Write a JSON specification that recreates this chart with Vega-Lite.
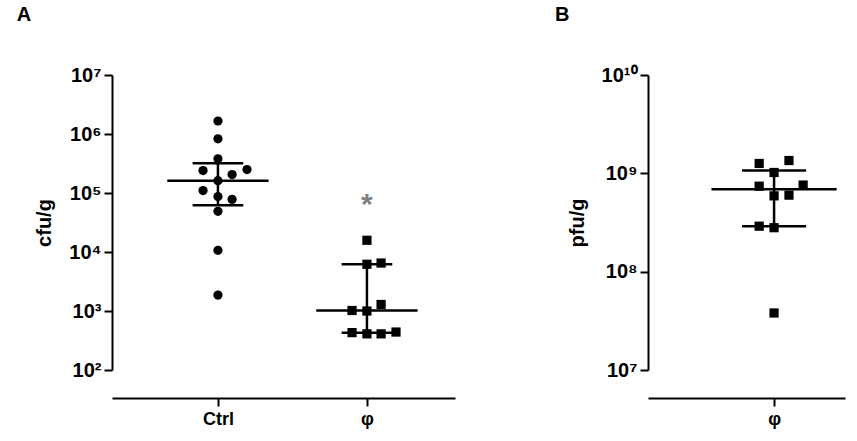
{
  "$schema": "https://vega.github.io/schema/vega-lite/v6.json",
  "background": "white",
  "padding": {"left": 16, "top": 5, "right": 5, "bottom": 5},
  "config": {
    "view": {"stroke": null},
    "font": "Liberation Sans",
    "axis": {"grid": false, "domainColor": "black", "domainWidth": 2, "tickColor": "black", "tickWidth": 2, "tickSize": 8, "labelColor": "black", "titleColor": "black", "labelFont": "Liberation Sans", "titleFont": "Liberation Sans"},
    "title": {"font": "Liberation Sans", "fontSize": 20, "fontWeight": "bold", "anchor": "start", "frame": "bounds"}
  },
  "datasets": {
    "a_pts": [
      {"g": "Ctrl", "x": 1.0, "v": 1.66e6}, {"g": "Ctrl", "x": 1.0, "v": 8.3e5}, {"g": "Ctrl", "x": 1.0, "v": 3.8e5},
      {"g": "Ctrl", "x": 0.9, "v": 2.4e5}, {"g": "Ctrl", "x": 1.195, "v": 2.5e5}, {"g": "Ctrl", "x": 1.095, "v": 2.05e5},
      {"g": "Ctrl", "x": 1.0, "v": 1.62e5}, {"g": "Ctrl", "x": 0.9, "v": 1.1e5}, {"g": "Ctrl", "x": 1.0, "v": 8.7e4},
      {"g": "Ctrl", "x": 1.095, "v": 7.8e4}, {"g": "Ctrl", "x": 1.0, "v": 4.9e4}, {"g": "Ctrl", "x": 1.0, "v": 1.07e4},
      {"g": "Ctrl", "x": 1.0, "v": 1.86e3},
      {"g": "phi", "x": 2.0, "v": 1.58e4}, {"g": "phi", "x": 2.0, "v": 6.2e3}, {"g": "phi", "x": 2.095, "v": 6.5e3},
      {"g": "phi", "x": 2.095, "v": 1.29e3}, {"g": "phi", "x": 1.9, "v": 1.02e3}, {"g": "phi", "x": 2.0, "v": 1.0e3},
      {"g": "phi", "x": 1.9, "v": 4.3e2}, {"g": "phi", "x": 2.0, "v": 4.1e2}, {"g": "phi", "x": 2.095, "v": 4.1e2},
      {"g": "phi", "x": 2.195, "v": 4.4e2}
    ],
    "a_sum": [
      {"c": 1, "med": 1.62e5, "lo": 6.2e4, "hi": 3.2e5},
      {"c": 2, "med": 1.02e3, "lo": 4.3e2, "hi": 6.2e3}
    ],
    "b_pts": [
      {"x": 0.9, "v": 1.26e9}, {"x": 1.1, "v": 1.35e9}, {"x": 1.0, "v": 1.02e9},
      {"x": 0.9, "v": 7.4e8}, {"x": 1.195, "v": 7.6e8}, {"x": 1.0, "v": 5.9e8},
      {"x": 1.1, "v": 6.0e8}, {"x": 0.9, "v": 2.9e8}, {"x": 1.0, "v": 2.8e8},
      {"x": 1.0, "v": 3.8e7}
    ],
    "b_sum": [
      {"c": 1, "med": 6.9e8, "lo": 2.9e8, "hi": 1.07e9}
    ]
  },
  "hconcat": [
    {
      "title": {"text": "A", "dx": -18, "offset": 40},
      "width": 343,
      "height": 295,
      "layer": [
        {
          "data": {"name": "a_sum"},
          "transform": [{"calculate": "datum.c - 0.34", "as": "lo_x"}, {"calculate": "datum.c + 0.34", "as": "hi_x"}],
          "mark": {"type": "rule", "strokeWidth": 2.5, "color": "black"},
          "encoding": {
            "x": {"field": "lo_x", "type": "quantitative"},
            "x2": {"field": "hi_x"},
            "y": {"field": "med", "type": "quantitative"}
          }
        },
        {
          "data": {"name": "a_sum"},
          "transform": [{"calculate": "datum.c - 0.17", "as": "lo_x"}, {"calculate": "datum.c + 0.17", "as": "hi_x"}, {"fold": ["lo", "hi"], "as": ["k", "yy"]}],
          "mark": {"type": "rule", "strokeWidth": 2.5, "color": "black"},
          "encoding": {
            "x": {"field": "lo_x", "type": "quantitative"},
            "x2": {"field": "hi_x"},
            "y": {"field": "yy", "type": "quantitative"}
          }
        },
        {
          "data": {"name": "a_sum"},
          "mark": {"type": "rule", "strokeWidth": 2.5, "color": "black"},
          "encoding": {
            "x": {"field": "c", "type": "quantitative"},
            "y": {"field": "lo", "type": "quantitative"},
            "y2": {"field": "hi"}
          }
        },
        {
          "data": {"name": "a_pts"},
          "mark": {"type": "point", "filled": true, "opacity": 1, "color": "black"},
          "encoding": {
            "x": {"field": "x", "type": "quantitative"},
            "y": {"field": "v", "type": "quantitative"},
            "shape": {"field": "g", "type": "nominal", "scale": {"domain": ["Ctrl", "phi"], "range": ["circle", "square"]}, "legend": null},
            "size": {"value": 85}
          }
        },
        {
          "data": {"values": [{"x": 2.0, "v": 8.3e4, "t": "*"}]},
          "mark": {"type": "text", "fontSize": 30, "fontWeight": "bold", "color": "#808080", "baseline": "middle", "dy": 7},
          "encoding": {
            "x": {"field": "x", "type": "quantitative", "scale": {"domain": [0.289, 2.591], "nice": false, "zero": false},
              "axis": {"title": null, "values": [1, 2], "labelExpr": "datum.value == 1 ? 'Ctrl' : 'φ'", "offset": 28, "labelFontSize": 18, "labelFontWeight": "bold", "labelPadding": 4}},
            "y": {"field": "v", "type": "quantitative", "scale": {"type": "log", "domain": [100, 10000000], "nice": false},
              "axis": {"title": "cfu/g", "titleFontSize": 20, "titleFontWeight": "bold", "titlePadding": 14, "values": [100, 1000, 10000, 100000, 1000000, 10000000],
                "labelExpr": "'10' + ['⁰','¹','²','³','⁴','⁵','⁶','⁷','⁸','⁹','¹⁰'][round(log(datum.value)/LN10)]", "labelFontSize": 20, "labelFontWeight": "bold", "labelPadding": 3}},
            "text": {"field": "t"}
          }
        }
      ]
    },
    {
      "title": {"text": "B", "dx": -12, "offset": 40},
      "width": 197,
      "height": 295,
      "layer": [
        {
          "data": {"name": "b_sum"},
          "transform": [{"calculate": "datum.c - 0.42", "as": "lo_x"}, {"calculate": "datum.c + 0.42", "as": "hi_x"}],
          "mark": {"type": "rule", "strokeWidth": 2.5, "color": "black"},
          "encoding": {
            "x": {"field": "lo_x", "type": "quantitative"},
            "x2": {"field": "hi_x"},
            "y": {"field": "med", "type": "quantitative"}
          }
        },
        {
          "data": {"name": "b_sum"},
          "transform": [{"calculate": "datum.c - 0.215", "as": "lo_x"}, {"calculate": "datum.c + 0.215", "as": "hi_x"}, {"fold": ["lo", "hi"], "as": ["k", "yy"]}],
          "mark": {"type": "rule", "strokeWidth": 2.5, "color": "black"},
          "encoding": {
            "x": {"field": "lo_x", "type": "quantitative"},
            "x2": {"field": "hi_x"},
            "y": {"field": "yy", "type": "quantitative"}
          }
        },
        {
          "data": {"name": "b_sum"},
          "mark": {"type": "rule", "strokeWidth": 2.5, "color": "black"},
          "encoding": {
            "x": {"field": "c", "type": "quantitative"},
            "y": {"field": "lo", "type": "quantitative"},
            "y2": {"field": "hi"}
          }
        },
        {
          "data": {"name": "b_pts"},
          "mark": {"type": "square", "filled": true, "opacity": 1, "color": "black", "size": 85},
          "encoding": {
            "x": {"field": "x", "type": "quantitative", "scale": {"domain": [0.154, 1.476], "nice": false, "zero": false},
              "axis": {"title": null, "values": [1], "labelExpr": "'φ'", "offset": 28, "labelFontSize": 18, "labelFontWeight": "bold", "labelPadding": 4}},
            "y": {"field": "v", "type": "quantitative", "scale": {"type": "log", "domain": [10000000, 10000000000], "nice": false},
              "axis": {"title": "pfu/g", "titleFontSize": 20, "titleFontWeight": "bold", "titlePadding": 14, "values": [10000000, 100000000, 1000000000, 10000000000],
                "labelExpr": "'10' + ['⁰','¹','²','³','⁴','⁵','⁶','⁷','⁸','⁹','¹⁰'][round(log(datum.value)/LN10)]", "labelFontSize": 20, "labelFontWeight": "bold", "labelPadding": 3}}
          }
        }
      ]
    }
  ],
  "spacing": 100
}
